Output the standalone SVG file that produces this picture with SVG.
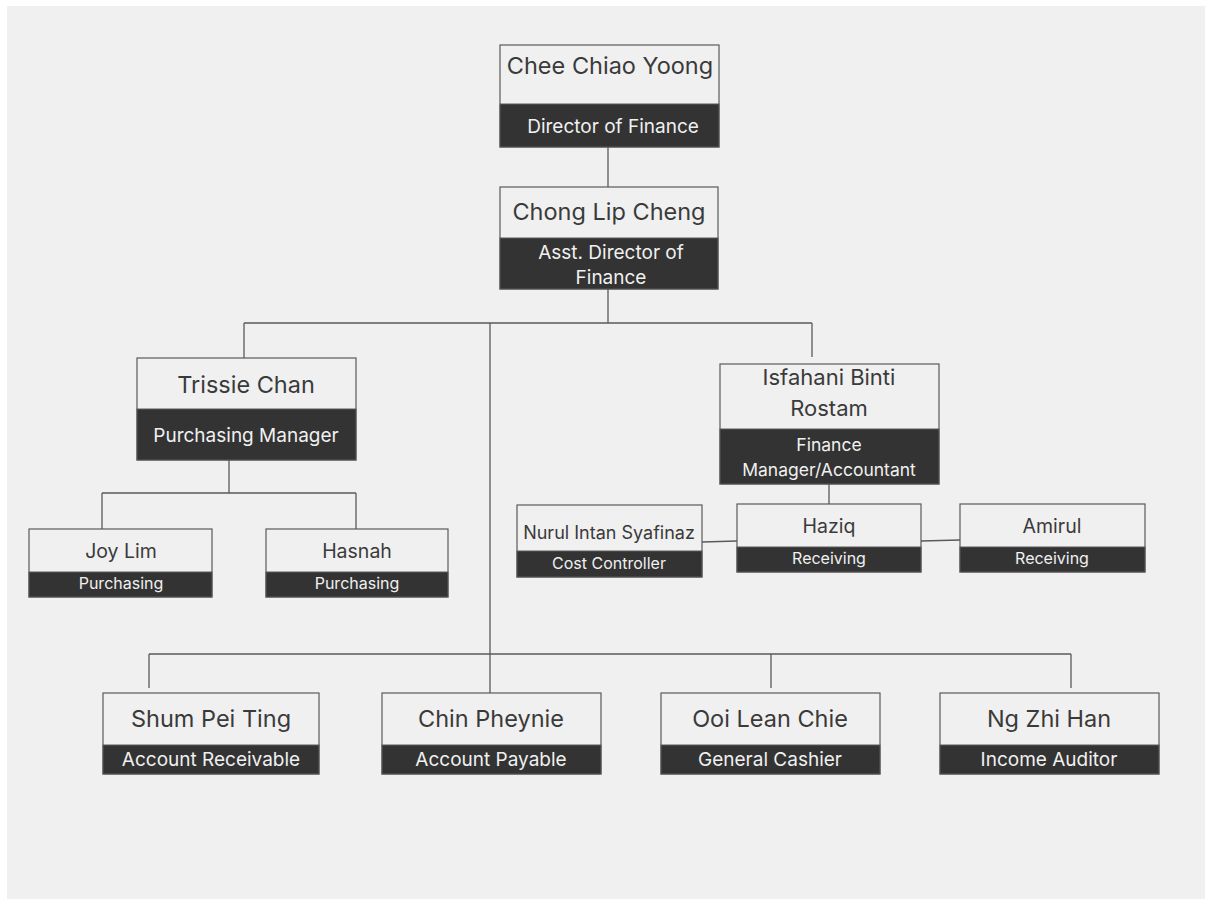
<svg xmlns="http://www.w3.org/2000/svg" width="1205" height="901" viewBox="0 0 1205 901">
<style>
.box{fill:#f0f0f0;stroke:#5a5a5a;stroke-width:1.2}
.band{fill:#333333;stroke:#5a5a5a;stroke-width:1}
.name{font-family:Inter,"Liberation Sans",sans-serif;fill:#3a3a3a;text-anchor:middle}
.role{font-family:Inter,"Liberation Sans",sans-serif;fill:#f0f0f0;text-anchor:middle}
.n22{font-size:23.5px}.n21{font-size:22px}.n18{font-size:19.5px}.n16{font-size:18px}
.r18{font-size:19px}.r16{font-size:17.5px}.r15{font-size:16px}
.conn{fill:none;stroke:#5a5a5a;stroke-width:1.3}
</style>
<rect width="1205" height="901" fill="#ffffff"/>
<rect x="7" y="6" width="1198" height="893" fill="#f0f0f0"/>
<g id="connectors">
<path class="conn" d="M608 147V187"/>
<path class="conn" d="M608 289V323M244 323H812M244 323V358M812 323V357M490 323V693"/>
<path class="conn" d="M229 460V493M102 493H356M102 493V529M356 493V529"/>
<path class="conn" d="M829 484V504M702 542L737 541M921 541L960 540"/>
<path class="conn" d="M149 654H1071M149 654V688M771 654V688M1071 654V688"/>
</g>
<g id="n-chee">
<rect class="box" x="500" y="45" width="219" height="102"/>
<rect class="band" x="500" y="104" width="219" height="43"/>
<text class="name n22" x="610" y="74">Chee Chiao Yoong</text>
<text class="role r18" x="613" y="133">Director of Finance</text>
</g>
<g id="n-chong">
<rect class="box" x="500" y="187" width="218" height="102"/>
<rect class="band" x="500" y="238" width="218" height="51"/>
<text class="name n22" x="609" y="220">Chong Lip Cheng</text>
<text class="role r18" x="611" y="259">Asst. Director of</text>
<text class="role r18" x="611" y="284">Finance</text>
</g>
<g id="n-trissie">
<rect class="box" x="137" y="358" width="219" height="102"/>
<rect class="band" x="137" y="409" width="219" height="51"/>
<text class="name n22" x="246" y="393">Trissie Chan</text>
<text class="role r18" x="246" y="442">Purchasing Manager</text>
</g>
<g id="n-isfahani">
<rect class="box" x="720" y="364" width="219" height="120"/>
<rect class="band" x="720" y="429" width="219" height="55"/>
<text class="name n21" x="829" y="385">Isfahani Binti</text>
<text class="name n21" x="829" y="416">Rostam</text>
<text class="role r16" x="829" y="451">Finance</text>
<text class="role r16" x="829" y="476">Manager/Accountant</text>
</g>
<g id="n-joy">
<rect class="box" x="29" y="529" width="183" height="68"/>
<rect class="band" x="29" y="572" width="183" height="25"/>
<text class="name n18" x="121" y="558">Joy Lim</text>
<text class="role r15" x="121" y="589">Purchasing</text>
</g>
<g id="n-hasnah">
<rect class="box" x="266" y="529" width="182" height="68"/>
<rect class="band" x="266" y="572" width="182" height="25"/>
<text class="name n18" x="357" y="558">Hasnah</text>
<text class="role r15" x="357" y="589">Purchasing</text>
</g>
<g id="n-nurul">
<rect class="box" x="517" y="505" width="185" height="72"/>
<rect class="band" x="517" y="551" width="185" height="26"/>
<text class="name n16" x="609" y="539">Nurul Intan Syafinaz</text>
<text class="role r15" x="609" y="569">Cost Controller</text>
</g>
<g id="n-haziq">
<rect class="box" x="737" y="504" width="184" height="68"/>
<rect class="band" x="737" y="547" width="184" height="25"/>
<text class="name n18" x="829" y="533">Haziq</text>
<text class="role r15" x="829" y="564">Receiving</text>
</g>
<g id="n-amirul">
<rect class="box" x="960" y="504" width="185" height="68"/>
<rect class="band" x="960" y="547" width="185" height="25"/>
<text class="name n18" x="1052" y="533">Amirul</text>
<text class="role r15" x="1052" y="564">Receiving</text>
</g>
<g id="n-shum">
<rect class="box" x="103" y="693" width="216" height="81"/>
<rect class="band" x="103" y="745" width="216" height="29"/>
<text class="name n22" x="211" y="727">Shum Pei Ting</text>
<text class="role r18" x="211" y="766">Account Receivable</text>
</g>
<g id="n-chin">
<rect class="box" x="382" y="693" width="219" height="81"/>
<rect class="band" x="382" y="745" width="219" height="29"/>
<text class="name n22" x="491" y="727">Chin Pheynie</text>
<text class="role r18" x="491" y="766">Account Payable</text>
</g>
<g id="n-ooi">
<rect class="box" x="661" y="693" width="219" height="81"/>
<rect class="band" x="661" y="745" width="219" height="29"/>
<text class="name n22" x="770" y="727">Ooi Lean Chie</text>
<text class="role r18" x="770" y="766">General Cashier</text>
</g>
<g id="n-ng">
<rect class="box" x="940" y="693" width="219" height="81"/>
<rect class="band" x="940" y="745" width="219" height="29"/>
<text class="name n22" x="1049" y="727">Ng Zhi Han</text>
<text class="role r18" x="1049" y="766">Income Auditor</text>
</g>
</svg>
